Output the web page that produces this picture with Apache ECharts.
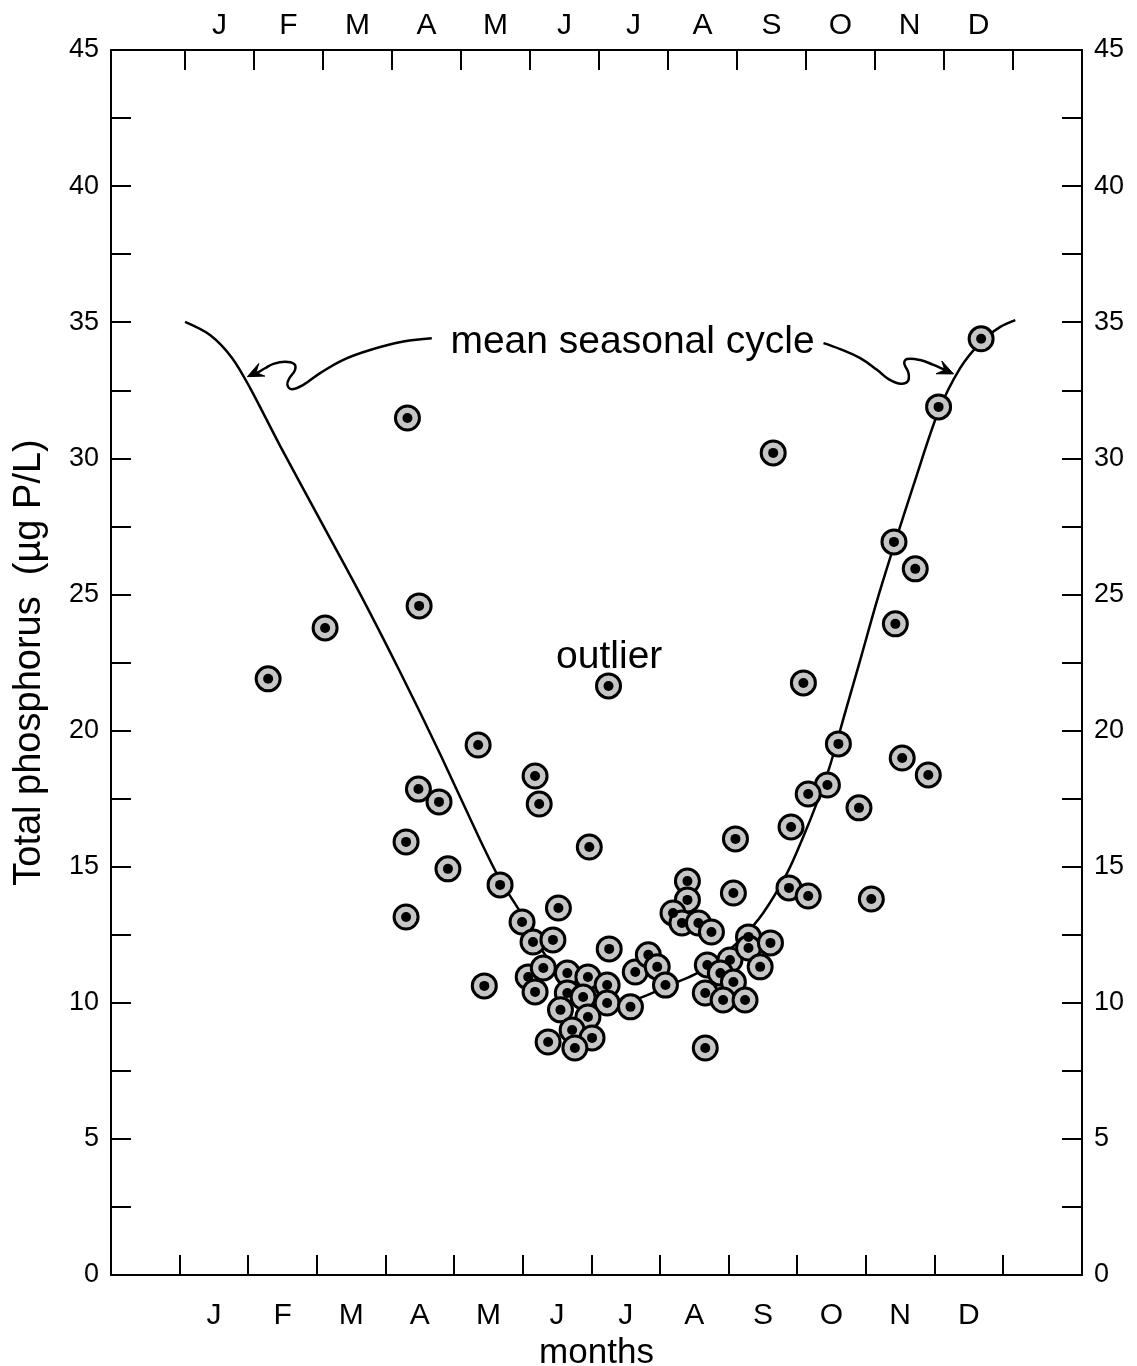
<!DOCTYPE html>
<html>
<head>
<meta charset="utf-8">
<script src="https://cdn.jsdelivr.net/npm/echarts@6/dist/echarts.min.js"></script>
<style>
  html, body { margin: 0; padding: 0; background: #fff; }
  #chart { width: 1137px; height: 1366px; }
</style>
</head>
<body>
<div id="chart"></div>
<script>
// ---- data (x in months from the plot's left edge: Jan spans 1..2, Dec spans 12..13) ----
const monthLetters = ['J','F','M','A','M','J','J','A','S','O','N','D'];
const monthTicks = [1,2,3,4,5,6,7,8,9,10,11,12,13];
const monthLabelPos = [1.5,2.5,3.5,4.5,5.5,6.5,7.5,8.5,9.5,10.5,11.5,12.5];
const yTickValues = [0,2.5,5,7.5,10,12.5,15,17.5,20,22.5,25,27.5,30,32.5,35,37.5,40,42.5,45];
const yLabelValues = [0,5,10,15,20,25,30,35,40,45];

// observed total phosphorus (µg P/L)
const obsMonth = [
  2.29, 3.12, 4.32, 4.49, 4.48, 4.78, 4.30, 4.91, 4.30, 5.35,
  5.44, 5.67, 5.99, 6.18, 6.24, 6.52, 6.15, 6.44, 6.97, 7.26,
  6.08, 6.30, 6.18, 6.65, 6.95, 7.23, 6.65, 6.88, 7.23, 6.55,
  6.95, 6.72, 7.01, 6.37, 6.76, 7.57, 7.64, 7.83, 7.96, 8.08,
  8.40, 8.40, 8.19, 8.32, 8.56, 8.75, 9.07, 8.69, 9.02, 9.29,
  9.29, 9.61, 8.88, 9.07, 9.46, 8.66, 8.92, 9.24, 8.66, 9.10,
  9.88, 10.16, 11.08,
  9.65, 10.09, 10.60, 10.44, 10.16, 9.91, 10.90, 11.53, 11.91, 11.41, 11.72,
  11.43, 12.06, 12.68, 7.25
];
const obsTP = [
  21.90, 23.77, 31.48, 24.58, 17.85, 17.38, 15.91, 14.92, 13.15, 19.47,
  10.62, 14.33, 12.97, 18.33, 17.30, 13.48, 12.23, 12.31, 15.72, 11.98,
  10.95, 11.28, 10.40, 11.09, 10.95, 10.65, 10.36, 10.21, 9.99, 9.74,
  9.48, 9.00, 8.71, 8.56, 8.34, 9.85, 11.13, 11.76, 11.32, 10.65,
  14.47, 13.78, 13.30, 12.93, 12.93, 12.60, 14.03, 11.39, 11.57, 12.42,
  12.01, 12.20, 11.09, 10.76, 11.32, 10.36, 10.10, 10.10, 8.34, 16.02,
  14.22, 13.92, 13.81,
  30.20, 21.75, 19.51, 18.00, 17.67, 16.46, 17.16, 18.99, 18.37, 26.93, 25.94,
  23.92, 31.89, 34.39, 21.64
];

// mean seasonal cycle
const cycleMonth = [1.079,1.443,1.764,2.026,2.464,3.047,3.630,4.213,4.796,5.379,5.671,5.991,6.327,6.691,7.128,7.493,7.711,8.251,8.542,8.878,9.169,9.504,9.854,10.087,10.292,10.481,10.700,10.918,11.166,11.414,11.720,12.055,12.376,12.682,12.959,13.178];
const cycleTP    = [35.01,34.53,33.69,32.59,30.46,27.74,25.02,22.15,19.14,15.98,14.51,13.23,11.76,10.91,10.21,9.99,10.18,10.76,11.09,11.68,12.31,13.30,14.77,16.09,17.38,18.74,20.68,22.59,24.80,26.82,29.21,31.70,33.32,34.28,34.83,35.08];

// annotation leader lines (data coordinates)
const leftArrowM = [4.675,4.261,3.776,3.386,3.047,2.803,2.634,2.570,2.599,2.682,2.668,2.536,2.366,2.245,2.099,1.987];
const leftArrowY = [34.41,34.29,33.98,33.62,33.13,32.70,32.54,32.70,32.94,33.25,33.47,33.55,33.47,33.31,33.10,33.00];
const rightArrowM = [10.383,10.627,10.918,11.162,11.331,11.501,11.608,11.622,11.560,11.599,11.793,11.987,12.133,12.278];
const rightArrowY = [34.23,34.01,33.68,33.25,32.91,32.74,32.82,33.13,33.49,33.65,33.61,33.43,33.27,33.10];
const labelCycle = {text: 'mean seasonal cycle', m: 7.60, y: 34.28};
const labelOutlier = {text: 'outlier', m: 7.26, y: 22.70};

// ---- chart ----
const FONT = 'Liberation Sans, Arial, Helvetica, sans-serif';
const chart = echarts.init(document.getElementById('chart'), null, {renderer: 'canvas'});

function xAxisDef(position, min, max, margin, nameOpts) {
  return Object.assign({
    type: 'value', position: position, min: min, max: max,
    axisLine: {show: true, onZero: false, lineStyle: {color: '#000', width: 2}},
    axisTick: {show: true, inside: true, length: 20, customValues: monthTicks, lineStyle: {color: '#000', width: 2}},
    axisLabel: {show: true, customValues: monthLabelPos, margin: margin, color: '#000', fontSize: 30, fontFamily: FONT,
      formatter: function (v) { return monthLetters[Math.floor(v) - 1] || ''; }},
    splitLine: {show: false}
  }, nameOpts || {});
}
function yAxisDef(position, nameOpts) {
  return Object.assign({
    type: 'value', position: position, min: 0, max: 45, interval: 2.5,
    axisLine: {show: true, onZero: false, lineStyle: {color: '#000', width: 2}},
    axisTick: {show: true, inside: true, length: 20, customValues: yTickValues, lineStyle: {color: '#000', width: 2}},
    axisLabel: {show: true, customValues: yLabelValues, margin: 12, color: '#000', fontSize: 27, fontFamily: FONT},
    splitLine: {show: false}
  }, nameOpts || {});
}

const option = {
  backgroundColor: '#fff',
  animation: false,
  grid: {left: 111, top: 50, width: 971, height: 1225, containLabel: false, outerBoundsMode: 'none'},
  xAxis: [
    xAxisDef('bottom', 0, 14.15, 26, {name: 'months', nameLocation: 'middle', nameGap: 52,
      nameTextStyle: {color: '#000', fontSize: 35, fontFamily: FONT}}),
    xAxisDef('top', -0.0725, 14.0, 9)
  ],
  yAxis: [
    yAxisDef('left', {name: 'Total phosphorus  (µg P/L)', nameLocation: 'middle', nameGap: 62,
      nameTextStyle: {color: '#000', fontSize: 38, fontFamily: FONT}}),
    yAxisDef('right')
  ],
  series: [
    {
      name: 'mean seasonal cycle', type: 'line', xAxisIndex: 0, yAxisIndex: 0,
      data: cycleMonth.map((m, i) => [m, cycleTP[i]]),
      smooth: 0.3, showSymbol: false, symbol: 'none',
      lineStyle: {color: '#000', width: 2.5}, z: 2
    },
    {
      name: 'observations', type: 'scatter', xAxisIndex: 0, yAxisIndex: 0,
      data: obsMonth.map((m, i) => [m, obsTP[i]]),
      symbol: 'circle', symbolSize: 24,
      itemStyle: {color: '#c6c6c6', borderColor: '#000', borderWidth: 3, opacity: 1}, z: 3
    },
    {
      name: 'centres', type: 'scatter', xAxisIndex: 0, yAxisIndex: 0,
      data: obsMonth.map((m, i) => [m, obsTP[i]]),
      symbol: 'circle', symbolSize: 10,
      itemStyle: {color: '#000', opacity: 1}, z: 4, silent: true
    }
  ]
};
chart.setOption(option);

// annotations positioned through the chart's own scales
function toPx(m, y) { return chart.convertToPixel({xAxisIndex: 0, yAxisIndex: 0}, [m, y]); }
function arrowGraphics(ms, ys) {
  const pts = ms.map((m, i) => toPx(m, ys[i]));
  const tip = pts[pts.length - 1];
  const prev = pts[pts.length - 3];
  let dx = tip[0] - prev[0], dy = tip[1] - prev[1];
  const len = Math.sqrt(dx * dx + dy * dy) || 1;
  dx /= len; dy /= len;
  const L = 16, W = 7;
  const bx = tip[0] - dx * L, by = tip[1] - dy * L;
  return [
    {type: 'polyline', shape: {points: pts.slice(0, pts.length - 1).concat([[tip[0] - dx * 8, tip[1] - dy * 8]]), smooth: 0.4},
     style: {stroke: '#000', lineWidth: 2.5, fill: null}, z: 10},
    {type: 'polygon', shape: {points: [tip, [bx - dy * W, by + dx * W], [tip[0] - dx * L * 0.6, tip[1] - dy * L * 0.6], [bx + dy * W, by - dx * W]]},
     style: {fill: '#000', stroke: '#000', lineWidth: 1}, z: 10}
  ];
}
function textGraphic(lbl) {
  const p = toPx(lbl.m, lbl.y);
  return {type: 'text', x: p[0], y: p[1], z: 11,
    style: {text: lbl.text, fill: '#000', font: '39px ' + FONT, align: 'center', verticalAlign: 'middle'}};
}
chart.setOption({
  graphic: [].concat(
    arrowGraphics(leftArrowM, leftArrowY),
    arrowGraphics(rightArrowM, rightArrowY),
    [textGraphic(labelCycle), textGraphic(labelOutlier)]
  )
});
</script>
</body>
</html>
